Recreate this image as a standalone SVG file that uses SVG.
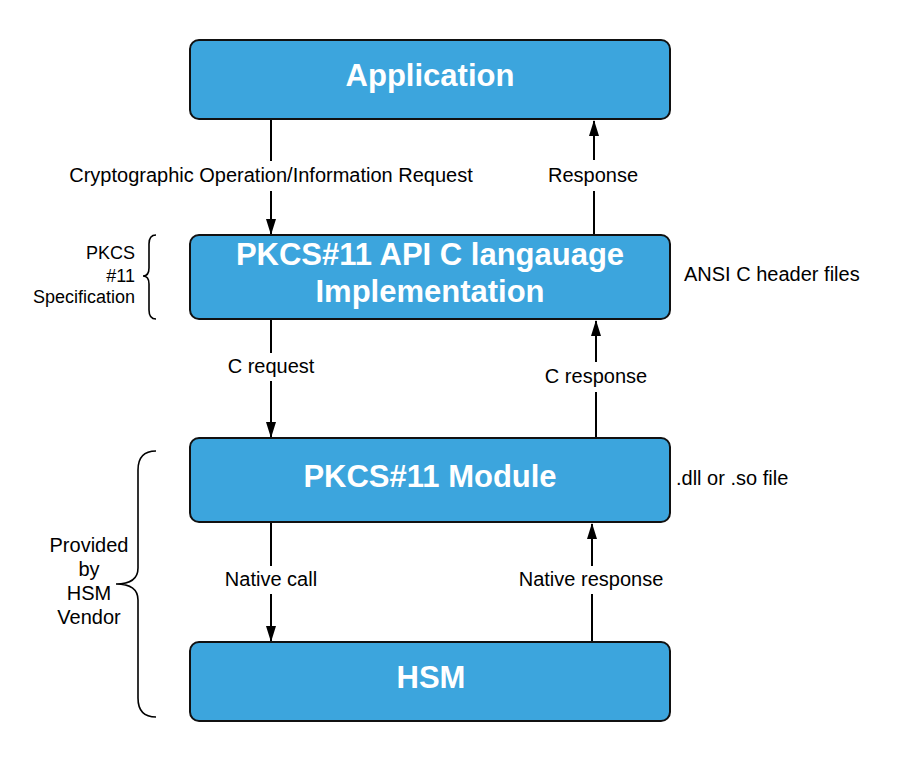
<svg xmlns="http://www.w3.org/2000/svg" width="900" height="762" viewBox="0 0 900 762">
<defs>
<style>
.box{fill:#3ca5dd;stroke:#111;stroke-width:2}
.title{font-family:"Liberation Sans",Arial,sans-serif;font-weight:bold;font-size:31px;fill:#fff;text-anchor:middle}
.lbl{font-family:"Liberation Sans",Arial,sans-serif;font-size:20px;fill:#000;text-anchor:middle}
.side{font-family:"Liberation Sans",Arial,sans-serif;font-size:20px;fill:#000}
.spec{font-family:"Liberation Sans",Arial,sans-serif;font-size:18px;fill:#000;text-anchor:end}
.edge{stroke:#000;stroke-width:2;fill:none}
.brace{stroke:#000;stroke-width:1.6;fill:none}
</style>
<marker id="ah" markerWidth="16" markerHeight="10" refX="15" refY="5" orient="auto" markerUnits="userSpaceOnUse" viewBox="0 0 16 10">
<path d="M0,0 L16,5 L0,10 Z" fill="#000"/>
</marker>
</defs>
<rect width="900" height="762" fill="#fff"/>
<g id="connectors">
<line class="edge" x1="271" y1="120" x2="271" y2="161"/>
<line class="edge" x1="271" y1="191" x2="271" y2="234" marker-end="url(#ah)"/>
<line class="edge" x1="594" y1="234" x2="594" y2="191"/>
<line class="edge" x1="594" y1="160" x2="594" y2="121" marker-end="url(#ah)"/>
<line class="edge" x1="271" y1="320" x2="271" y2="353"/>
<line class="edge" x1="271" y1="381" x2="271" y2="437" marker-end="url(#ah)"/>
<line class="edge" x1="596" y1="437" x2="596" y2="392"/>
<line class="edge" x1="596" y1="362" x2="596" y2="321" marker-end="url(#ah)"/>
<line class="edge" x1="271" y1="523" x2="271" y2="566"/>
<line class="edge" x1="271" y1="594" x2="271" y2="641" marker-end="url(#ah)"/>
<line class="edge" x1="592" y1="641" x2="592" y2="594"/>
<line class="edge" x1="592" y1="566" x2="592" y2="524" marker-end="url(#ah)"/>
<text class="lbl" x="271" y="182">Cryptographic Operation/Information Request</text>
<text class="lbl" x="593" y="182">Response</text>
<text class="lbl" x="271" y="373">C request</text>
<text class="lbl" x="596" y="383">C response</text>
<text class="lbl" x="271" y="586">Native call</text>
<text class="lbl" x="591" y="586">Native response</text>
</g>
<g id="application">
<rect class="box" x="190" y="40" width="480" height="79" rx="9"/>
<text class="title" x="430" y="86">Application</text>
</g>
<g id="pkcs11-api">
<rect class="box" x="190" y="235" width="480" height="84" rx="9"/>
<text class="title" x="430" y="265">PKCS#11 API C langauage</text>
<text class="title" x="430" y="302">Implementation</text>
</g>
<g id="pkcs11-module">
<rect class="box" x="190" y="438" width="480" height="84" rx="9"/>
<text class="title" x="430" y="487">PKCS#11 Module</text>
</g>
<g id="hsm">
<rect class="box" x="190" y="642" width="480" height="79" rx="9"/>
<text class="title" x="431" y="688">HSM</text>
</g>
<g id="spec-note">
<path class="brace" d="M156,235 Q149,235 149,244 L149,268 Q149,276 143,276 Q149,276 149,284 L149,310 Q149,319 156,319"/>
<text class="spec" x="135" y="259">PKCS</text>
<text class="spec" x="135" y="282">#11</text>
<text class="spec" x="135" y="303">Specification</text>
</g>
<g id="vendor-note">
<path class="brace" d="M156,451 Q138,451 138,470 L138,568 Q138,584 116,584 Q138,584 138,600 L138,698 Q138,717 156,717"/>
<text class="side" text-anchor="middle" x="89" y="552">Provided</text>
<text class="side" text-anchor="middle" x="89" y="576">by</text>
<text class="side" text-anchor="middle" x="89" y="600">HSM</text>
<text class="side" text-anchor="middle" x="89" y="624">Vendor</text>
</g>
<g id="ansi-note">
<text class="side" x="684" y="281">ANSI C header files</text>
</g>
<g id="dll-note">
<text class="side" x="676" y="485">.dll or .so file</text>
</g>
</svg>
